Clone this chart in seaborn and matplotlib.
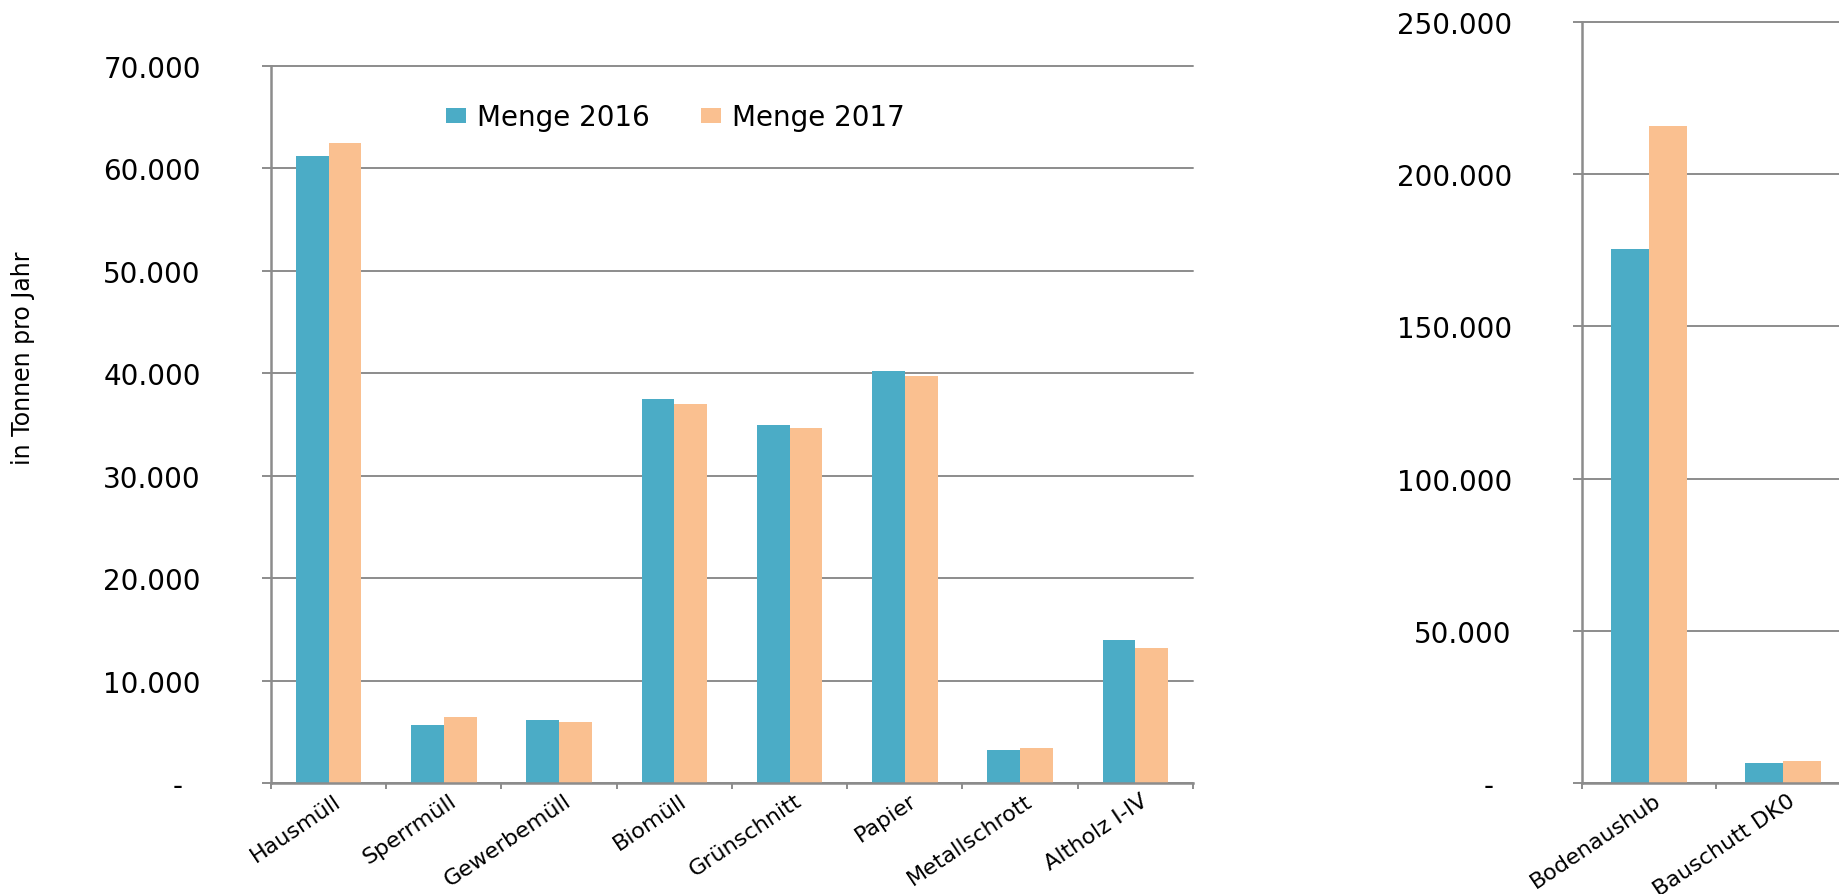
import numpy as np
import pandas as pd
import matplotlib
matplotlib.use("Agg")
import matplotlib.pyplot as plt
import matplotlib.transforms as mtransforms
import seaborn as sns

# Values (tonnes per year)
categories_left = ["Hausmüll", "Sperrmüll", "Gewerbemüll", "Biomüll",
                   "Grünschnitt", "Papier", "Metallschrott", "Altholz I-IV"]
menge_2016_left = [61200, 5620, 6110, 37500, 34970, 40200, 3240, 13920]
menge_2017_left = [62470, 6400, 5920, 37050, 34640, 39710, 3400, 13140]

categories_right = ["Bodenaushub", "Bauschutt DK0"]
menge_2016_right = [175500, 6580]
menge_2017_right = [215700, 7130]

series_names = ["Menge 2016", "Menge 2017"]
colors = ["#4BACC6", "#FAC090"]
GRAY = "#8c8c8c"


def long_frame(categories, values_2016, values_2017):
    df = pd.DataFrame({"Kategorie": categories,
                       series_names[0]: values_2016,
                       series_names[1]: values_2017})
    return df.melt(id_vars="Kategorie", var_name="Jahr", value_name="Menge")


def thousands(v):
    # German thousands separator, zero shown as a dash (accounting style)
    if v == 0:
        return "-\u2007"
    return f"{v:,.0f}".replace(",", ".")


def style_axis(ax, n_slots, y_max, y_step):
    ax.set_xlim(-0.5, n_slots - 0.5)
    ax.set_ylim(0, y_max)
    ticks = np.arange(0, y_max + 1, y_step)
    ax.set_yticks(ticks)
    ax.set_yticklabels([thousands(v) for v in ticks])
    ax.yaxis.grid(True, color=GRAY, lw=1.4)
    ax.xaxis.grid(False)
    ax.set_axisbelow(True)
    for t in ax.yaxis.get_major_ticks():
        t.gridline.set_clip_on(False)
    for s in ["top", "right"]:
        ax.spines[s].set_visible(False)
    for s in ["left", "bottom"]:
        ax.spines[s].set_color(GRAY)
        ax.spines[s].set_linewidth(1.8)
    ax.tick_params(axis="y", direction="out", length=6.5, width=1.4,
                   color=GRAY, pad=44, labelsize=20, left=True)
    # ticks between the categories, like the spreadsheet original
    ax.set_xticks(np.arange(-0.5, n_slots, 1.0), minor=True)
    ax.tick_params(axis="x", which="minor", direction="out", length=4,
                   width=1.4, color=GRAY, bottom=True)
    ax.tick_params(axis="x", which="major", length=0, pad=5, labelsize=16)
    offset = mtransforms.ScaledTranslation(0.045, 0, ax.figure.dpi_scale_trans)
    for lbl in ax.get_xticklabels():
        lbl.set_rotation(34)
        lbl.set_ha("right")
        lbl.set_va("top")
        lbl.set_rotation_mode("anchor")
        lbl.set_transform(lbl.get_transform() + offset)
    ax.set_xlabel("")
    ax.set_ylabel("")


sns.set_theme(style="white")
plt.rcParams["font.family"] = ["DejaVu Sans"]
plt.rcParams["text.color"] = "black"
plt.rcParams["xtick.color"] = "black"
plt.rcParams["ytick.color"] = "black"

fig = plt.figure(figsize=(18.4, 8.95), dpi=100)
W, H = 1840, 895

# left panel: household / municipal waste
ax_left = fig.add_axes([271 / W, (H - 784) / H, 922 / W, 717 / H])
sns.barplot(data=long_frame(categories_left, menge_2016_left, menge_2017_left),
            x="Kategorie", y="Menge", hue="Jahr", palette=colors,
            saturation=1, width=0.57, errorbar=None, linewidth=0, ax=ax_left)
handles, labels = ax_left.get_legend_handles_labels()
ax_left.get_legend().remove()
style_axis(ax_left, len(categories_left), 70000, 10000)
ax_left.legend(handles, labels, loc="upper left",
               bbox_to_anchor=(446 / W, 1 - 104 / H), bbox_transform=fig.transFigure,
               ncol=2, frameon=False, fontsize=20, handlelength=0.72,
               handleheight=0.45, handletextpad=0.4, columnspacing=1.85,
               borderpad=0, borderaxespad=0)

# right panel: construction waste (cut off at the image edge, as in the original)
ax_right = fig.add_axes([1582 / W, (H - 784) / H, 402 / W, 761 / H])
sns.barplot(data=long_frame(categories_right, menge_2016_right, menge_2017_right),
            x="Kategorie", y="Menge", hue="Jahr", palette=colors,
            saturation=1, width=0.57, errorbar=None, linewidth=0,
            legend=False, ax=ax_right)
style_axis(ax_right, 3, 250000, 50000)

fig.text(23 / W, 1 - 358 / H, "in Tonnen pro Jahr", rotation=90,
         ha="center", va="center", fontsize=17)

fig.savefig("out.png", dpi=100)
